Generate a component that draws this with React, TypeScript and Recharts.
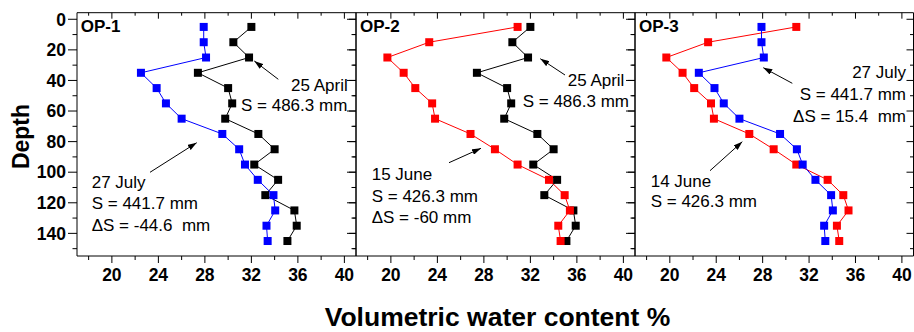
import React from 'react';
import { LineChart, Line, XAxis, YAxis } from 'recharts';

// depth of each reading (cm) and water content (%) per survey date
const depth = [5, 15, 25, 35, 45, 55, 65, 75, 85, 95, 105, 115, 125, 135, 145];
const april25 = [32.0, 30.45, 31.8, 27.4, 30.0, 30.35, 29.75, 32.6, 34.0, 32.25, 34.3, 33.2, 35.7, 35.9, 35.1];
const june = [30.9, 23.3, 19.7, 21.1, 22.1, 23.55, 23.8, 26.85, 28.95, 30.9, 33.6, 34.95, 35.4, 34.4, 34.6];
const july27 = [27.9, 27.9, 28.1, 22.5, 23.85, 24.65, 26.0, 29.5, 30.95, 31.45, 32.55, 33.9, 34.05, 33.3, 33.4];

const xTicks = [18, 20, 22, 24, 26, 28, 30, 32, 34, 36, 38, 40];
const yTicks = [0, 10, 20, 30, 40, 50, 60, 70, 80, 90, 100, 110, 120, 130, 140, 150];

const rows = depth.map((d, i) => ({ depth: d, april: april25[i], june: june[i], july: july27[i] }));

const FONT = 'Liberation Sans, Arial, sans-serif';
const TOP = 12.7;
const X_DOMAIN: [number, number] = [17, 41];
const Y_DOMAIN: [number, number] = [-4.3, 154.8];

const BottomTick = (p: any) => {
  const v = p.payload.value;
  const major = v % 4 === 0;
  return (
    <g>
      <line x1={p.x} x2={p.x} y1={p.y} y2={p.y + (major ? 7 : 4)} stroke="#000" />
      {major && (
        <text x={p.x} y={p.y + 25} textAnchor="middle" fontFamily={FONT} fontWeight="bold" fontSize={17.5} fill="#000">
          {v}
        </text>
      )}
    </g>
  );
};

const TopTick = (p: any) => {
  const major = p.payload.value % 4 === 0;
  return <line x1={p.x} x2={p.x} y1={p.y} y2={p.y + (major ? 6 : 3)} stroke="#000" />;
};

const leftTick = (labels: boolean) => (p: any) => {
  const v = p.payload.value;
  const major = v % 20 === 0;
  return (
    <g>
      <line x1={p.x} x2={p.x - (major ? 9 : 4.5)} y1={p.y} y2={p.y} stroke="#000" />
      {labels && major && (
        <text x={p.x - 11} y={p.y} dy="0.36em" textAnchor="end" fontFamily={FONT} fontWeight="bold" fontSize={17.5} fill="#000">
          {v}
        </text>
      )}
    </g>
  );
};

const RightTick = (p: any) => {
  const major = p.payload.value % 20 === 0;
  return <line x1={p.x} x2={p.x - (major ? 7 : 3.5)} y1={p.y} y2={p.y} stroke="#000" />;
};

const squareDot = (color: string, name: string) => (p: any) => (
  <rect key={`${name}-${p.index}`} x={p.cx - 4} y={p.cy - 4} width={8} height={8} fill={color} />
);

type Note = { x: number; y: number; text: string; anchor?: string; bold?: boolean };
type Arrow = [number, number, number, number];

const panels = [
  {
    name: 'OP-1', left: 0, width: 357, yWidth: 77,
    series: [{ key: 'april', color: '#000000' }, { key: 'july', color: '#0000ff' }],
    notes: [
      { x: 80.7, y: 32.3, text: 'OP-1', bold: true },
      { x: 291, y: 90.7, text: '25 April' },
      { x: 241, y: 111, text: 'S = 486.3 mm' },
      { x: 91.7, y: 188, text: '27 July' },
      { x: 91.7, y: 209.3, text: 'S = 441.7 mm' },
      { x: 91.7, y: 231, text: '\u0394S = -44.6  mm' },
    ] as Note[],
    arrows: [[278.3, 79.3, 254.3, 61], [150, 172.3, 196.7, 142.7]] as Arrow[],
  },
  {
    name: 'OP-2', left: 336, width: 300, yWidth: 20,
    series: [{ key: 'april', color: '#000000' }, { key: 'june', color: '#ff0000' }],
    notes: [
      { x: 360, y: 32.3, text: 'OP-2', bold: true },
      { x: 567.7, y: 86, text: '25 April' },
      { x: 522.7, y: 107.3, text: 'S = 486.3 mm' },
      { x: 371.7, y: 180, text: '15 June' },
      { x: 371.7, y: 201.7, text: 'S = 426.3 mm' },
      { x: 371.7, y: 222.7, text: '\u0394S = -60 mm' },
    ] as Note[],
    arrows: [[565, 75, 540.3, 58.7], [449, 162.7, 481, 148.3]] as Arrow[],
  },
  {
    name: 'OP-3', left: 615, width: 299.5, yWidth: 20,
    series: [{ key: 'june', color: '#ff0000' }, { key: 'july', color: '#0000ff' }],
    notes: [
      { x: 639, y: 32, text: 'OP-3', bold: true },
      { x: 906, y: 78.3, text: '27 July', anchor: 'end' },
      { x: 906, y: 100, text: 'S = 441.7 mm', anchor: 'end' },
      { x: 906, y: 121.7, text: '\u0394S = 15.4  mm', anchor: 'end' },
      { x: 650.7, y: 186.7, text: '14 June' },
      { x: 650.7, y: 207.3, text: 'S = 426.3 mm' },
    ] as Note[],
    arrows: [[792.3, 83.3, 763.3, 67.7], [710, 170.7, 742.3, 141.7]] as Arrow[],
  },
];

export default function App() {
  return (
    <div style={{ position: 'absolute', left: 0, top: 0, width: 914, height: 332, background: '#fff', overflow: 'hidden' }}>
      <svg width={914} height={332} style={{ position: 'absolute', left: 0, top: 0 }}>
        <text x={0} y={0} transform="translate(29,136.5) rotate(-90)" textAnchor="middle" fontFamily={FONT} fontWeight="bold" fontSize={23} fill="#000">
          Depth
        </text>
        <text x={497.5} y={325.5} textAnchor="middle" fontFamily={FONT} fontWeight="bold" fontSize={26.5} fill="#000">
          Volumetric water content %
        </text>
      </svg>
      {panels.map((pn, pi) => {
        const off = pn.left;
        return (
          <div key={pn.name} style={{ position: 'absolute', left: pn.left, top: 0 }}>
            <LineChart
              layout="vertical"
              width={pn.width}
              height={332}
              data={rows}
              margin={{ top: TOP - 1, right: 0, bottom: 46, left: 0 }}
            >
              <defs>
                <marker id={`ah${pi}`} markerWidth={9} markerHeight={6} refX={9} refY={3} orient="auto" markerUnits="userSpaceOnUse">
                  <path d="M0,0 L9,3 L0,6 z" fill="#000" />
                </marker>
              </defs>
              <XAxis xAxisId="b" type="number" domain={X_DOMAIN} ticks={xTicks} interval={0} height={30}
                tickSize={0} tickMargin={0} tickLine={false} axisLine={{ stroke: '#000' }} tick={BottomTick} allowDataOverflow />
              <XAxis xAxisId="t" orientation="top" type="number" domain={X_DOMAIN} ticks={xTicks} interval={0} height={1}
                tickSize={0} tickMargin={0} tickLine={false} axisLine={{ stroke: '#000' }} tick={TopTick} allowDataOverflow />
              <YAxis yAxisId="l" type="number" dataKey="depth" domain={Y_DOMAIN} ticks={yTicks} interval={0}
                width={pn.yWidth} tickSize={0} tickMargin={0} tickLine={false} axisLine={{ stroke: '#000' }}
                tick={leftTick(pi === 0)} allowDataOverflow />
              <YAxis yAxisId="r" orientation="right" type="number" dataKey="depth" domain={Y_DOMAIN} ticks={yTicks} interval={0}
                width={1} tickSize={0} tickMargin={0} tickLine={false} axisLine={{ stroke: '#000' }} tick={RightTick} allowDataOverflow />
              {pn.series.map((s) => (
                <Line key={s.key} xAxisId="b" yAxisId="l" dataKey={s.key} stroke={s.color} strokeWidth={1}
                  dot={squareDot(s.color, s.key)} activeDot={false} isAnimationActive={false} />
              ))}
              {pn.arrows.map((a, i) => (
                <line key={`a${i}`} x1={a[0] - off} y1={a[1]} x2={a[2] - off} y2={a[3]} stroke="#000" strokeWidth={1} markerEnd={`url(#ah${pi})`} />
              ))}
              {pn.notes.map((n, i) => (
                <text key={`n${i}`} x={n.x - off} y={n.y} textAnchor={n.anchor || 'start'} fontFamily={FONT}
                  fontWeight={n.bold ? 'bold' : 'normal'} fontSize={17} fill="#000" style={{ whiteSpace: 'pre' }}>
                  {n.text}
                </text>
              ))}
            </LineChart>
          </div>
        );
      })}
    </div>
  );
}
